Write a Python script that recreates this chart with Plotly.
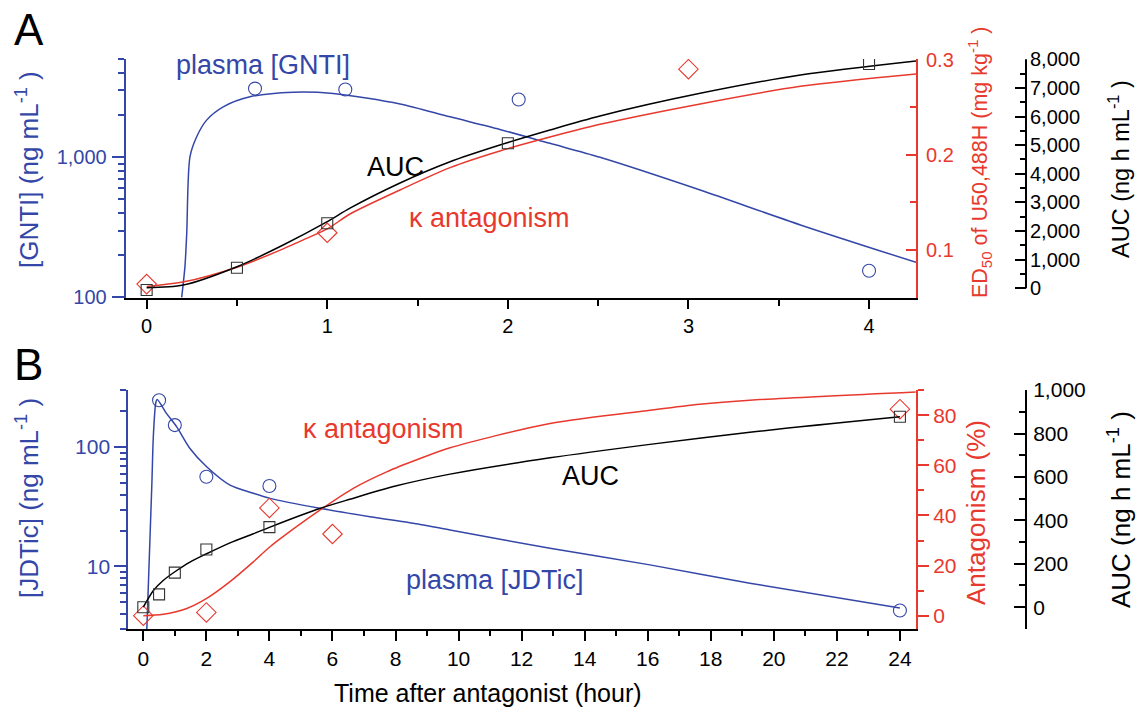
import math
import plotly.graph_objects as go

FONT = "Liberation Sans, Arial, Helvetica, sans-serif"
BLUE = "#3447A8"
RED = "#E8392E"
BLACK = "#000000"
SQ = "#333333"

# ---------------- Panel A : GNTI ----------------
gnti_obs_t = [0.6, 1.1, 2.06, 4.0]
gnti_obs = [3090, 3040, 2580, 155]
gnti_fit_t = [0.194, 0.212, 0.222, 0.24, 0.277, 0.332, 0.424, 0.572, 0.812, 1.033,
              1.403, 1.68, 1.956, 2.233, 2.51, 3.065, 3.62, 4.26]
gnti_fit = [100, 166, 287, 1009, 1400, 1840, 2290, 2700, 2912, 2850,
            2400, 1942, 1580, 1257, 1000, 584, 329, 178]

aucA_obs_t = [0, 0.5, 1, 2, 4]
aucA_obs = [-60, 720, 2270, 5065, 7835]
aucA_fit_t = [0, 0.203, 0.5, 0.756, 1.0, 1.126, 1.403, 1.68, 1.956, 2.233,
              2.51, 3.065, 3.62, 4.26]
aucA_fit = [20, 115, 754, 1512, 2326, 2800, 3680, 4422, 5005, 5529,
            6020, 6811, 7450, 7940]

ed50_obs_t = [0, 1, 3]
ed50_obs = [0.064, 0.118, 0.29]
ed50_fit_t = [0, 0.2, 0.5, 0.756, 0.849, 1.0, 1.126, 1.403, 1.68, 1.956,
              2.233, 2.51, 3.065, 3.62, 4.26]
ed50_fit = [0.0616, 0.0661, 0.0818, 0.101, 0.109, 0.122, 0.1377, 0.163, 0.1865, 0.204,
            0.2186, 0.232, 0.2535, 0.272, 0.285]

# ---------------- Panel B : JDTic ----------------
jdtic_obs_t = [0.5, 1, 2, 4, 24]
jdtic_obs = [247, 153, 56.4, 47.2, 4.27]
jdtic_fit_t = [0.11, 0.27, 0.32, 0.40, 0.44, 0.74, 1.06, 1.48, 2.01, 2.75, 3.49,
               4.02, 5.6, 7.19, 8.78, 9.73, 12.9, 16.07, 19.24, 24]
jdtic_fit = [2.9, 48, 126, 239, 251, 191, 148, 97.5, 68.4, 48, 41,
             37.2, 30.7, 26.1, 22.5, 20.2, 14.2, 10.3, 7.23, 4.47]

aucB_obs_t = [0, 0.5, 1, 2, 4, 24]
aucB_obs = [0, 59, 159, 266, 369, 877]
aucB_fit_t = [0, 0.32, 0.63, 1.06, 1.48, 2.01, 2.75, 3.49, 4.02, 5.5, 6.55,
              8.0, 9.73, 12.9, 16.07, 19.24, 24]
aucB_fit = [0, 77, 123, 169, 208, 246, 296, 338, 369, 450, 497,
            558, 613, 688, 750, 806, 877]

antag_obs_t = [0, 2, 4, 6, 24]
antag_obs = [0, 1.3, 43.0, 32.6, 82.4]
antag_fit_t = [0, 0.63, 1.38, 2.01, 2.75, 3.49, 4.02, 4.86, 5.6, 6.66, 7.72, 8.78,
               9.73, 12.9, 16.07, 17.65, 19.24, 24.5]
antag_fit = [0, 0.56, 2.9, 6.9, 13.6, 21.5, 27.5, 35.5, 42.1, 50.8, 57.4, 62.7,
             67, 76.7, 82, 84.4, 86, 89.3]

# tick values
xA_ticks = [0, 1, 2, 3, 4]
xA_minor = [0.5, 1.5, 2.5, 3.5]
xB_ticks = list(range(0, 25, 2))
xB_minor = list(range(1, 24, 2))
yA_ticks = [100, 1000]
yA_text = ["100", "1,000"]
yA_minor = [200, 300, 400, 500, 600, 700, 800, 900, 2000, 3000, 4000, 5000]
redA_ticks = [0.1, 0.2, 0.3]
redA_minor = [0.05, 0.15, 0.25]
aucA_ticks = list(range(0, 8001, 1000))
aucA_minor = list(range(500, 8000, 1000))
yB_ticks = [10, 100]
yB_text = ["10", "100"]
yB_minor = [3, 4, 5, 6, 7, 8, 9, 20, 30, 40, 50, 60, 70, 80, 90, 200, 300]
redB_ticks = [0, 20, 40, 60, 80]
redB_minor = [10, 30, 50, 70, 90]
aucB_ticks = [0, 200, 400, 600, 800, 1000]
aucB_minor = [-100, 100, 300, 500, 700, 900]

# ---------------- geometry ----------------
W, H = 1138, 714
ML, MR, MT, MB = 125, 112, 59, 85
PW = W - ML - MR
PH = H - MT - MB


def px(x):
    return (x - ML) / PW


def py(y):
    return (H - MB - y) / PH


fig = go.Figure()

LW = 1.5


def line(x, y, xa, ya, color):
    fig.add_trace(go.Scatter(x=x, y=y, xaxis=xa, yaxis=ya, mode="lines",
                             line=dict(color=color, width=LW, shape="spline", smoothing=0.8),
                             hoverinfo="skip", showlegend=False))


def pts(x, y, xa, ya, color, symbol, size):
    fig.add_trace(go.Scatter(x=x, y=y, xaxis=xa, yaxis=ya, mode="markers",
                             marker=dict(symbol=symbol, size=size, color=color,
                                         line=dict(color=color, width=1.1)),
                             showlegend=False))


# Panel A traces
line(gnti_fit_t, gnti_fit, "x", "y", BLUE)
pts(gnti_obs_t, gnti_obs, "x", "y", BLUE, "circle-open", 13)
line(ed50_fit_t, ed50_fit, "x", "y2", RED)
pts(ed50_obs_t, ed50_obs, "x", "y2", RED, "diamond-open", 15)
line(aucA_fit_t, aucA_fit, "x", "y3", BLACK)
pts(aucA_obs_t, aucA_obs, "x", "y3", SQ, "square-open", 11)

# Panel B traces
line(jdtic_fit_t, jdtic_fit, "x2", "y4", BLUE)
pts(jdtic_obs_t, jdtic_obs, "x2", "y4", BLUE, "circle-open", 13)
line(antag_fit_t, antag_fit, "x2", "y5", RED)
pts(antag_obs_t, antag_obs, "x2", "y5", RED, "diamond-open", 15)
line(aucB_fit_t, aucB_fit, "x2", "y6", BLACK)
pts(aucB_obs_t, aucB_obs, "x2", "y6", SQ, "square-open", 11)

TFA = 20
TFB = 21


def minor(vals, ticks, ln, color):
    return dict(tickmode="array", tickvals=vals, ticks=ticks, ticklen=ln,
                tickwidth=2, tickcolor=color, showgrid=False)


common = dict(showgrid=False, zeroline=False, showline=True, linewidth=2,
              tickwidth=2, tickmode="array")

fig.update_layout(
    width=W, height=H,
    margin=dict(l=ML, r=MR, t=MT, b=MB),
    paper_bgcolor="white", plot_bgcolor="rgba(0,0,0,0)",
    font=dict(family=FONT, size=TFA, color=BLACK),
    showlegend=False,
    xaxis=dict(domain=[px(125.7), px(916)], anchor="y", range=[-0.116, 4.26],
               linecolor=BLACK, ticks="outside", ticklen=9, tickcolor=BLACK,
               tickvals=xA_ticks, tickfont=dict(size=TFA, color=BLACK),
               minor=minor(xA_minor, "outside", 6, BLACK), **common),
    yaxis=dict(domain=[py(297.7), 1], anchor="x", type="log",
               range=[2 - 0.002, math.log10(5000) + 0.002],
               linecolor=BLUE, ticks="outside", ticklen=12, tickcolor=BLUE,
               tickvals=yA_ticks, ticktext=yA_text, tickfont=dict(size=TFA, color=BLUE),
               ticklabelstandoff=1,
               minor=minor(yA_minor, "outside", 6, BLUE), **common),
    yaxis2=dict(overlaying="y", anchor="x", side="right", range=[0.0497, 0.3007],
                linecolor=RED, ticks="inside", ticklen=10, tickcolor=RED,
                tickvals=redA_ticks, tickfont=dict(size=TFA, color=RED),
                ticklabelstandoff=4,
                minor=minor(redA_minor, "inside", 6, RED), **common),
    yaxis3=dict(overlaying="y", anchor="free", position=1.0, side="right",
                range=[-328, 8010], ticks="inside", ticklen=11, tickcolor=BLACK,
                tickvals=aucA_ticks, tickformat=",", tickfont=dict(size=TFA, color=BLACK),
                ticklabelstandoff=3,
                minor=minor(aucA_minor, "inside", 6, BLACK),
                showgrid=False, zeroline=False, showline=False, tickwidth=2, tickmode="array"),
    xaxis2=dict(domain=[px(128.3), px(916)], anchor="y4", range=[-0.476, 24.51],
                linecolor=BLACK, ticks="outside", ticklen=10, tickcolor=BLACK,
                tickvals=xB_ticks, tickfont=dict(size=TFB, color=BLACK),
                minor=minor(xB_minor, "outside", 5, BLACK), **common),
    yaxis4=dict(domain=[0, py(390)], anchor="x2", type="log",
                range=[math.log10(3) - 0.002, math.log10(300) + 0.002],
                linecolor=BLUE, ticks="outside", ticklen=12, tickcolor=BLUE,
                tickvals=yB_ticks, ticktext=yB_text, tickfont=dict(size=TFB, color=BLUE),
                ticklabelstandoff=0,
                minor=minor(yB_minor, "outside", 6, BLUE), **common),
    yaxis5=dict(overlaying="y4", anchor="x2", side="right", range=[-5.3, 90.05],
                linecolor=RED, ticks="outside", ticklen=11, tickcolor=RED,
                tickvals=redB_ticks, tickfont=dict(size=TFB, color=RED),
                ticklabelstandoff=0,
                minor=minor(redB_minor, "outside", 6, RED), **common),
    yaxis6=dict(overlaying="y4", anchor="free", position=1.0, side="right",
                range=[-100.5, 1000.5], linecolor=BLACK, ticks="inside", ticklen=11,
                tickcolor=BLACK, tickvals=aucB_ticks, tickformat=",",
                tickfont=dict(size=TFB, color=BLACK), ticklabelstandoff=2,
                minor=minor(aucB_minor, "inside", 6, BLACK), **common),
)

# AUC axis line for panel A spans only 0..8000
fig.add_shape(type="line", xref="paper", yref="y3", x0=1.0, x1=1.0, y0=0, y1=8000,
              line=dict(color=BLACK, width=2))


def label(text, x, y, size, color, angle=0):
    fig.add_annotation(text=text, xref="paper", yref="paper", x=px(x), y=py(y),
                       xanchor="center", yanchor="middle", showarrow=False,
                       textangle=angle, font=dict(family=FONT, size=size, color=color))


# panel letters
label("A", 29, 29.6, 44, BLACK)
label("B", 28.5, 364.6, 44, BLACK)

# axis titles
label("[GNTI] (ng mL<sup>-1</sup> )", 27, 170, 26, BLUE, -90)
label("ED<sub>50</sub> of U50,488H (mg kg<sup>-1</sup> )", 979, 162, 21.5, RED, -90)
label("AUC (ng h mL<sup>-1</sup> )", 1119, 169, 23.5, BLACK, -90)
label("[JDTic] (ng mL<sup>-1</sup> )", 27, 498, 26, BLUE, -90)
label("Antagonism (%)", 976, 513, 26, RED, -90)
label("AUC (ng h mL<sup>-1</sup> )", 1119, 510, 26, BLACK, -90)
label("Time after antagonist (hour)", 488, 693, 25, BLACK)

# in-plot labels
IL = 27
label("plasma [GNTI]", 263, 65, IL, BLUE)
label("AUC", 395, 167, IL, BLACK)
label("\u03ba antagonism", 489, 217.6, IL, RED)
label("\u03ba antagonism", 383, 429, IL, RED)
label("AUC", 590, 476, IL, BLACK)
label("plasma [JDTic]", 495, 580, IL, BLUE)

fig.write_html("out.html", config={"displayModeBar": False},
               post_script="document.body.style.margin='0';document.body.style.overflow='hidden';")
